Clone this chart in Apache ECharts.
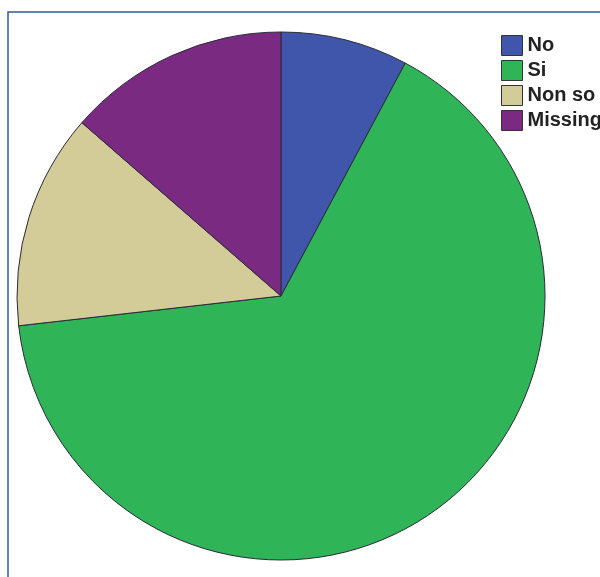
<!DOCTYPE html>
<html>
<head>
<meta charset="utf-8">
<script src="https://cdn.jsdelivr.net/npm/echarts@6/dist/echarts.min.js"></script>
<style>
  html, body { margin: 0; padding: 0; background: #fff; }
  #chart { width: 600px; height: 577px; }
</style>
</head>
<body>
<div id="chart"></div>
<script>
  // slices, clockwise from 12 o'clock (percent)
  const categories = ['No', 'Si', 'Non so', 'Missing'];
  const values = [7.8, 65.4, 13.2, 13.6];
  const colors = ['#3f56ab', '#2fb457', '#d3cb98', '#7a2a80'];

  const chart = echarts.init(document.getElementById('chart'));
  chart.setOption({
    animation: false,
    backgroundColor: '#fff',
    color: colors,
    graphic: [{
      type: 'rect',
      shape: { x: 8, y: 12, width: 800, height: 800 },
      style: { fill: 'none', stroke: '#2e5c9a', lineWidth: 1.5 },
      silent: true
    }],
    legend: {
      orient: 'vertical',
      left: 501,
      top: 35,
      icon: 'rect',
      itemWidth: 21,
      itemHeight: 20,
      itemGap: 4,
      padding: 0,
      itemStyle: { borderColor: '#333', borderWidth: 1 },
      textStyle: {
        fontFamily: 'Liberation Sans, Arial, sans-serif',
        fontSize: 20,
        fontWeight: 'bold',
        color: '#222'
      },
      data: categories
    },
    series: [{
      type: 'pie',
      center: [281, 296],
      radius: 264,
      startAngle: 90,
      clockwise: true,
      label: { show: false },
      labelLine: { show: false },
      itemStyle: { borderColor: '#2a2a3a', borderWidth: 1 },
      emphasis: { disabled: true },
      data: categories.map((c, i) => ({ name: c, value: values[i] }))
    }]
  });
</script>
</body>
</html>
